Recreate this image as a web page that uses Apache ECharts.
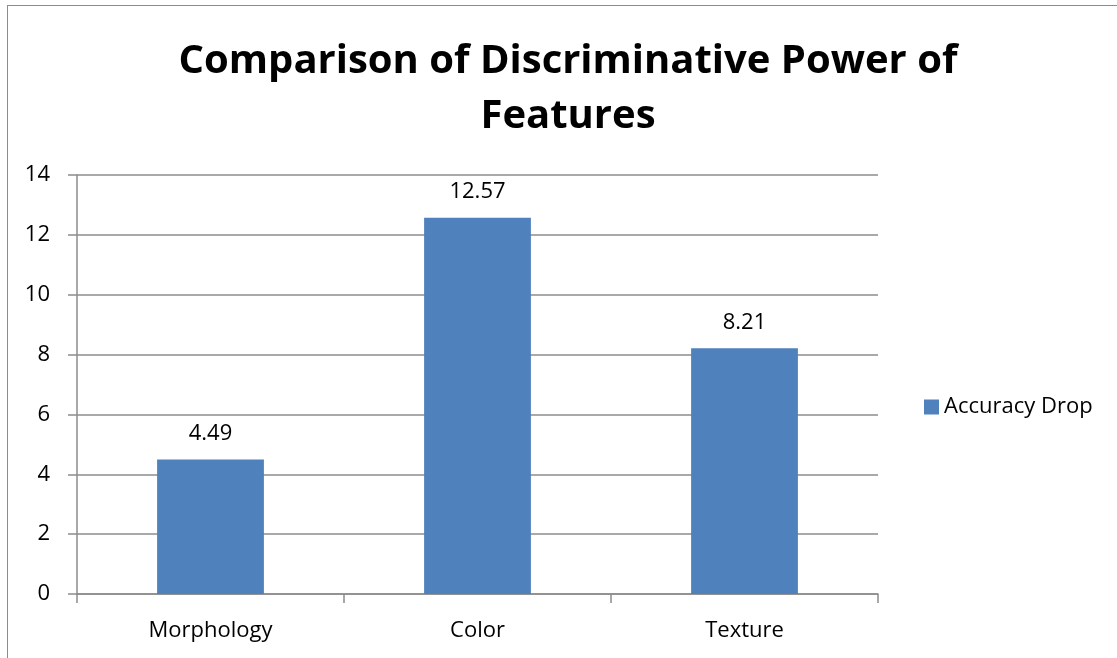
<!DOCTYPE html>
<html>
<head>
<meta charset="utf-8">
<script src="https://cdn.jsdelivr.net/npm/echarts@6/dist/echarts.min.js"></script>
<style>
  html, body { margin: 0; padding: 0; background: #fff; }
  #frame { position: absolute; left: 7px; top: 5px; width: 1200px; height: 700px; border: 1.5px solid #8c8c8c; box-sizing: border-box; }
  #chart { position: absolute; left: 0; top: 0; width: 1117px; height: 658px; }
</style>
</head>
<body>
<div id="frame"></div>
<div id="chart"></div>
<script>
const categories = ["Morphology", "Color", "Texture"];
const accuracyDrop = [4.49, 12.57, 8.21];
const seriesName = "Accuracy Drop";
const titleText = "Comparison of Discriminative Power of\nFeatures";

const font = "'Open Sans', 'Noto Sans', sans-serif";
const axisGrey = "#8c8c8c";

const chart = echarts.init(document.getElementById("chart"));
chart.setOption({
  animation: false,
  backgroundColor: "transparent",
  textStyle: { fontFamily: font },
  title: {
    text: titleText,
    left: 563,
    top: 29,
    textAlign: "center",
    textStyle: { fontFamily: font, fontSize: 40, fontWeight: "bold", color: "#000", lineHeight: 55 }
  },
  legend: {
    data: [seriesName],
    left: 919,
    top: 391,
    icon: "rect",
    itemWidth: 15,
    itemHeight: 15,
    itemGap: 7,
    textStyle: { fontFamily: font, fontSize: 22, color: "#000" }
  },
  grid: { left: 77, right: 239, top: 175, bottom: 64 },
  xAxis: {
    type: "category",
    data: categories,
    axisLine: { lineStyle: { color: axisGrey, width: 1.5 } },
    axisTick: { show: true, length: 9, alignWithLabel: false, lineStyle: { color: axisGrey, width: 1.5 } },
    axisLabel: { fontFamily: font, fontSize: 22, color: "#000", margin: 26 }
  },
  yAxis: {
    type: "value",
    min: 0,
    max: 14,
    interval: 2,
    axisLine: { show: true, lineStyle: { color: axisGrey, width: 1.5 } },
    axisTick: { show: true, length: 9, lineStyle: { color: axisGrey, width: 1.5 } },
    splitLine: { lineStyle: { color: axisGrey, width: 1.5 } },
    axisLabel: { fontFamily: font, fontSize: 22, color: "#000", margin: 27 }
  },
  series: [{
    name: seriesName,
    type: "bar",
    data: accuracyDrop,
    barWidth: "40%",
    itemStyle: { color: "#4F81BD" },
    label: {
      show: true,
      position: "top",
      distance: 15,
      fontFamily: font,
      fontSize: 22,
      color: "#000"
    }
  }]
});
</script>
</body>
</html>
